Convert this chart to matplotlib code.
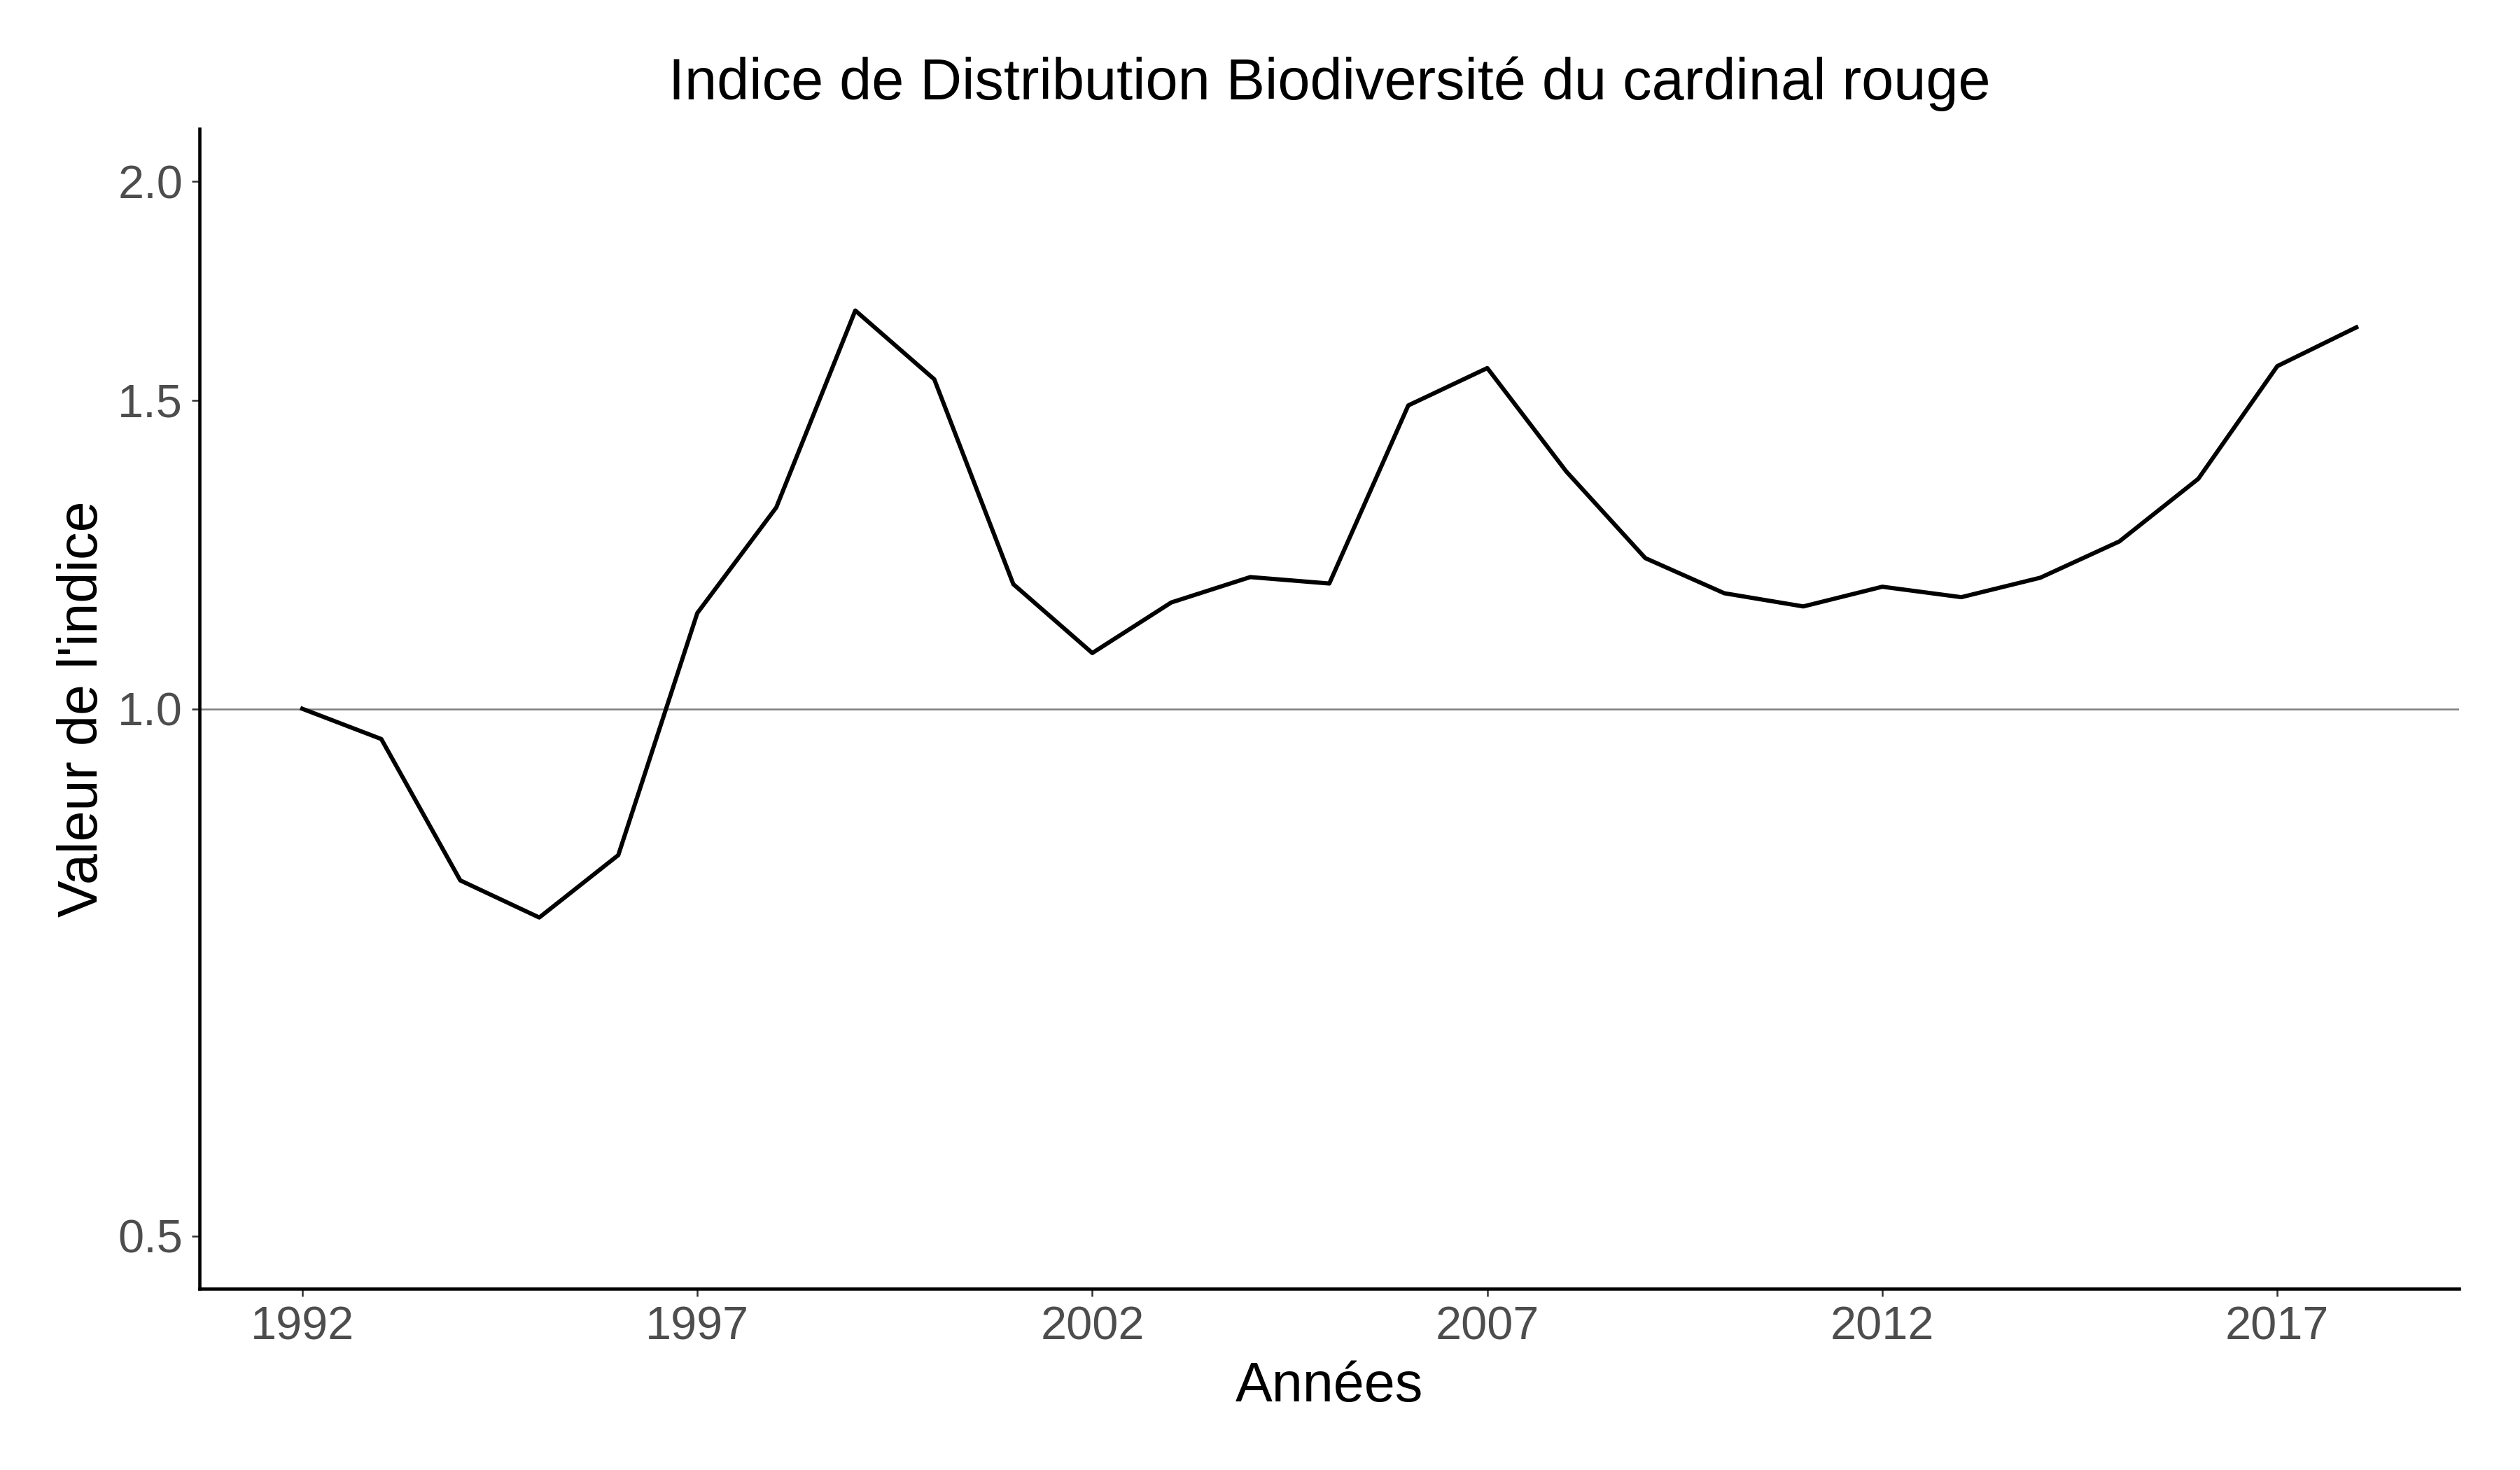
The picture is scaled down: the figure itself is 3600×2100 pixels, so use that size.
import numpy as np
import matplotlib
matplotlib.use('Agg')
import matplotlib.pyplot as plt
from matplotlib.ticker import FixedLocator, FixedFormatter, NullLocator

plt.rcParams['font.family'] = ['Liberation Sans', 'DejaVu Sans']

# data
annees = list(range(1992, 2019))
indice = [1.000, 0.961, 0.798, 0.760, 0.825, 1.134, 1.303, 1.688, 1.542,
          1.178, 1.076, 1.150, 1.189, 1.179, 1.490, 1.565, 1.366, 1.219,
          1.164, 1.144, 1.174, 1.158, 1.188, 1.246, 1.353, 1.569, 1.651]
x_ticks = [1992, 1997, 2002, 2007, 2012, 2017]
y_ticks = [0.5, 1.0, 1.5, 2.0]
y_labels = ['0.5', '1.0', '1.5', '2.0']

fig = plt.figure(figsize=(12, 7), dpi=300)
ax = fig.add_axes([0.0792, 0.1233, 0.8966, 0.7891])

ax.axhline(1.0, color='#7f7f7f', linewidth=0.6, zorder=1)
ax.plot(annees, indice, color='black', linewidth=1.45, zorder=2)

ax.set_yscale('log')
span = np.log(2.0) - np.log(0.5)
ax.set_ylim(np.exp(np.log(0.5) - 0.05 * span), np.exp(np.log(2.0) + 0.05 * span))
xr = annees[-1] - annees[0]
ax.set_xlim(annees[0] - 0.05 * xr, annees[-1] + 0.05 * xr)

ax.yaxis.set_major_locator(FixedLocator(y_ticks))
ax.yaxis.set_major_formatter(FixedFormatter(y_labels))
ax.yaxis.set_minor_locator(NullLocator())
ax.set_xticks(x_ticks)
ax.set_xticklabels([str(t) for t in x_ticks])

for s in ['top', 'right']:
    ax.spines[s].set_visible(False)
for s in ['left', 'bottom']:
    ax.spines[s].set_linewidth(1.1)
    ax.spines[s].set_color('black')

ax.tick_params(axis='both', which='major', length=2.75, width=0.6, color='#333333',
               labelsize=16, labelcolor='#4d4d4d', pad=3)

ax.set_xlabel('Années', fontsize=19, labelpad=4)
ax.set_ylabel("Valeur de l'indice", fontsize=19, labelpad=3)
ax.set_title('Indice de Distribution Biodiversité du cardinal rouge', fontsize=19.9, pad=10)

fig.savefig('out.png', dpi=300, facecolor='white')
plt.close(fig)
